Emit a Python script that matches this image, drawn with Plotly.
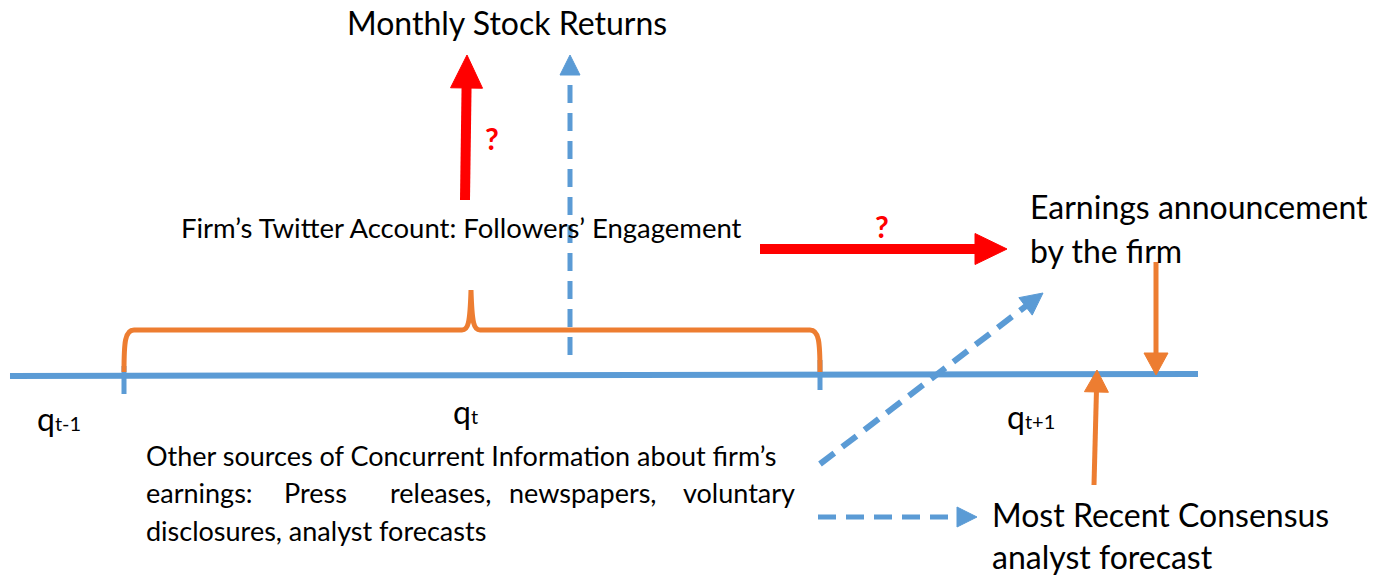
import plotly.graph_objects as go
import math

W, H = 1388, 577
BLUE = "#5B9BD5"
ORANGE = "#ED7D31"
RED = "#FF0000"
FONT = "Lato"

# ---- diagram data (pixel-space layout of the reference) ----
timeline_x = [10, 1198]
timeline_y = [376, 374]
tick_x = [124, 820]
tick_y = [[366, 394], [360, 390]]

brace_ends = [124, 820]
brace_base, brace_top, brace_cusp_x, brace_cusp_top = 372, 330, 471, 290

# arrows: (x0, y0, x1, y1, shaft width, head len, head width, color, dash)
arrows = [
    (465, 200, 467, 55, 10, 33, 32, RED, None),
    (760, 249, 1007, 249, 10, 32, 31, RED, None),
    (570, 355, 570, 55, 5, 20, 20, BLUE, "18px,10px"),
    (820, 464, 1043, 293, 6, 22, 22, BLUE, "18px,10px"),
    (818, 517, 977, 517, 5, 20, 20, BLUE, "18px,10px"),
    (1156, 262, 1156, 375, 5, 22, 24, ORANGE, None),
    (1094, 485, 1097, 370, 5, 22, 24, ORANGE, None),
]

SUB = '<span style="font-size:20px">{}</span>'
texts = [  # (text, x, y, size, xanchor, color, bold)
    ("Monthly Stock Returns", 507, 22, 32, "center", "black", False),
    ("Firm\u2019s Twitter Account: Followers\u2019 Engagement", 461, 227, 27.5, "center", "black", False),
    ("Earnings announcement", 1028, 206, 32, "left", "black", False),
    ("by the firm", 1028, 250, 32, "left", "black", False),
    ("Most Recent Consensus", 990, 514, 32, "left", "black", False),
    ("analyst forecast", 990, 556, 32, "left", "black", False),
    ("q" + SUB.format("t-1"), 35, 418, 32, "left", "black", False),
    ("q" + SUB.format("t"), 451, 411, 32, "left", "black", False),
    ("q" + SUB.format("t+1"), 1005, 416, 32, "left", "black", False),
    ("?", 492, 138, 30, "center", RED, True),
    ("?", 882, 226, 30, "center", RED, True),
    ("Other sources of Concurrent Information about firm\u2019s", 144, 455, 27, "left", "black", False),
    ("disclosures, analyst forecasts", 144, 530, 27, "left", "black", False),
]

# justified second paragraph line: words and their x positions (last one right-aligned)
para_words = ["earnings:", "Press", "releases,", "newspapers,", "voluntary"]
para_word_x = [144, 282, 388, 507, 797]
para_y = 492

fig = go.Figure()

# timeline
fig.add_trace(go.Scatter(x=timeline_x, y=timeline_y, mode="lines",
                         line=dict(color=BLUE, width=6), hoverinfo="skip"))
for tx, (ty0, ty1) in zip(tick_x, tick_y):
    fig.add_trace(go.Scatter(x=[tx, tx], y=[ty0, ty1], mode="lines",
                             line=dict(color=BLUE, width=5), hoverinfo="skip"))

# brace
l, r = brace_ends
c = brace_cusp_x
path = (f"M {l} {brace_base} C {l} {brace_top + 12}, {l + 1} {brace_top}, {l + 10} {brace_top} "
        f"L {c - 9} {brace_top} C {c - 3} {brace_top}, {c - 1} {brace_top - 6}, {c} {brace_cusp_top} "
        f"C {c + 1} {brace_top - 6}, {c + 3} {brace_top}, {c + 9} {brace_top} "
        f"L {r - 10} {brace_top} C {r - 1} {brace_top}, {r} {brace_top + 12}, {r} {brace_base}")
fig.add_shape(type="path", path=path, xref="x", yref="y",
              line=dict(color=ORANGE, width=5), layer="above")

# arrows
for x0, y0, x1, y1, w, hl, hw, col, dash in arrows:
    d = math.hypot(x1 - x0, y1 - y0)
    ux, uy = (x1 - x0) / d, (y1 - y0) / d
    px, py = -uy, ux
    bx, by = x1 - ux * hl, y1 - uy * hl
    fig.add_trace(go.Scatter(x=[x0, bx + ux * 2], y=[y0, by + uy * 2], mode="lines",
                             line=dict(color=col, width=w, dash=dash or "solid"),
                             hoverinfo="skip"))
    fig.add_trace(go.Scatter(x=[x1, bx + px * hw / 2, bx - px * hw / 2, x1],
                             y=[y1, by + py * hw / 2, by - py * hw / 2, y1],
                             mode="lines", fill="toself", fillcolor=col,
                             line=dict(color=col, width=1), hoverinfo="skip"))

for t, x, y, s, xa, col, b in texts:
    fig.add_annotation(x=x, y=y, text=f"<b>{t}</b>" if b else t, showarrow=False,
                       xanchor=xa, yanchor="middle",
                       font=dict(family=FONT, size=s, color=col))

for i, (wd, wx) in enumerate(zip(para_words, para_word_x)):
    fig.add_annotation(x=wx, y=para_y, text=wd, showarrow=False,
                       xanchor="right" if i == len(para_words) - 1 else "left",
                       yanchor="middle", font=dict(family=FONT, size=27, color="black"))

fig.update_layout(
    width=W, height=H, showlegend=False,
    margin=dict(l=0, r=0, t=0, b=0),
    paper_bgcolor="white", plot_bgcolor="white",
    xaxis=dict(range=[0, W], visible=False, fixedrange=True),
    yaxis=dict(range=[H, 0], visible=False, fixedrange=True),
)

fig.write_html("out.html", config={"displayModeBar": False},
               post_script="document.body.style.margin='0';document.body.style.overflow='hidden';")
